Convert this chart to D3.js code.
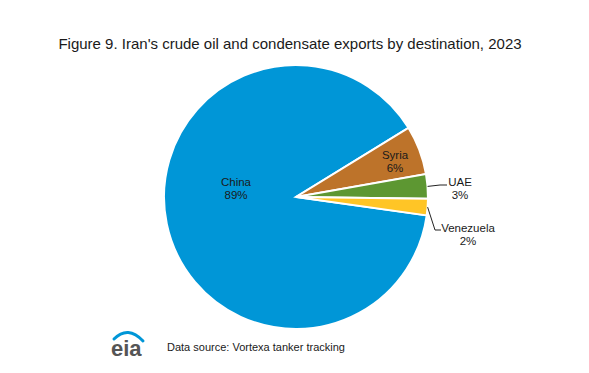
<!DOCTYPE html>
<html>
<head>
<meta charset="utf-8">
<script src="https://cdnjs.cloudflare.com/ajax/libs/d3/7.8.5/d3.min.js"></script>
<style>
  body { margin: 0; background: #fff; }
  svg text { font-family: "Liberation Sans", Arial, sans-serif; fill: #1a1a1a; }
</style>
</head>
<body>
<div class="chart"></div>
<script>
var categories = ["China", "Syria", "UAE", "Venezuela"];
var shares = [89, 6, 3, 2];
var colors = ["#0096d7", "#bd732a", "#5d9732", "#ffc526"];

var width = 589, height = 373,
    cx = 296, cy = 197, radius = 132;

var svg = d3.select(".chart").append("svg")
    .attr("width", width).attr("height", height);

svg.append("text")
    .attr("x", 290).attr("y", 49)
    .attr("text-anchor", "middle")
    .style("font-size", "15px")
    .text("Figure 9. Iran's crude oil and condensate exports by destination, 2023");

var data = categories.map(function(c, i) { return {name: c, value: shares[i], color: colors[i]}; });

var start = 98 * Math.PI / 180;
var pie = d3.pie().sort(null).value(function(d) { return d.value; })
    .startAngle(start).endAngle(start + 2 * Math.PI);
var arc = d3.arc().innerRadius(0).outerRadius(radius);

var g = svg.append("g").attr("transform", "translate(" + cx + "," + cy + ")");
var arcs = pie(data);

g.selectAll("path.slice")
  .data(arcs)
  .enter().append("path")
    .attr("class", "slice")
    .attr("d", arc)
    .attr("fill", function(d) { return d.data.color; })
    .attr("stroke", "#fff")
    .attr("stroke-width", 2);

// label positions relative to center (inside for big slices, outside with leaders for small)
var labelPos = {
  "China": [-60, -15],
  "Syria": [99, -42],
  "UAE": [164, -15],
  "Venezuela": [172, 31]
};

g.selectAll("text.lbl")
  .data(arcs)
  .enter().append("text")
    .attr("class", "lbl")
    .attr("text-anchor", "middle")
    .style("font-size", "11.5px")
    .attr("transform", function(d) { var p = labelPos[d.data.name]; return "translate(" + p[0] + "," + p[1] + ")"; })
    .each(function(d) {
      var t = d3.select(this);
      t.append("tspan").attr("x", 0).attr("dy", "0.35em").text(d.data.name);
      t.append("tspan").attr("x", 0).attr("dy", "1.15em").text(d.data.value + "%");
    });

// leader lines for small slices
function edgePoint(d) {
  var a = (d.startAngle + d.endAngle) / 2;
  return [Math.sin(a) * radius, -Math.cos(a) * radius];
}
var leaders = {
  "UAE": function(p) { return [p, [144, -12], [151, -12]]; },
  "Venezuela": function(p) { return [p, [139, 33], [145, 33]]; }
};
g.selectAll("path.leader")
  .data(arcs.filter(function(d) { return leaders[d.data.name]; }))
  .enter().append("path")
    .attr("class", "leader")
    .attr("fill", "none")
    .attr("stroke", "#222")
    .attr("stroke-width", 1)
    .attr("d", function(d) { return d3.line()(leaders[d.data.name](edgePoint(d))); });

// eia logo
var logo = svg.append("g");
logo.append("path")
    .attr("d", "M114,339 Q128,325 143,341")
    .attr("fill", "none")
    .attr("stroke", "#0096d7")
    .attr("stroke-width", 3)
    .attr("stroke-linecap", "round");
logo.append("text")
    .attr("x", 111).attr("y", 356)
    .style("font-size", "22px")
    .style("font-weight", "bold")
    .style("fill", "#555")
    .text("eia");

svg.append("text")
    .attr("x", 167).attr("y", 351)
    .style("font-size", "11px")
    .text("Data source: Vortexa tanker tracking");
</script>
</body>
</html>
